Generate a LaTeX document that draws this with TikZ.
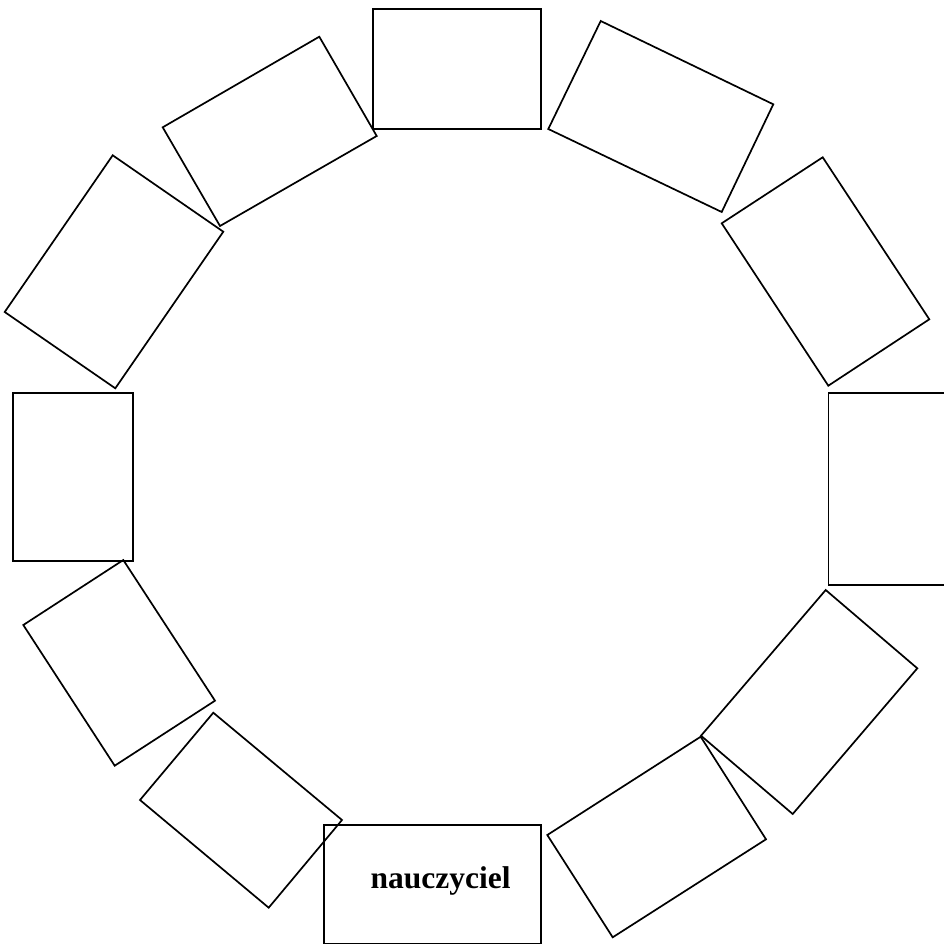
\documentclass[tikz,border=0pt]{standalone}
\usepackage{fontspec}
\setmainfont{Liberation Serif}
\begin{document}
\begin{tikzpicture}[x=1pt,y=-1pt,
  card/.style={draw=black,line width=1.7pt,line join=miter},
  label/.style={font=\bfseries\fontsize{31.5}{36}\selectfont,inner sep=0pt}]
\useasboundingbox (0,0) rectangle (944,945);
% top
\draw[card] (372.7,9) rectangle (541,128.7);
% top-left
\draw[card] (162.7,127.3) -- (319.3,36.7) -- (376.7,136) -- (220,226) -- cycle;
% left upper
\draw[card] (112.7,155.3) -- (223.3,231.7) -- (115.3,388.3) -- (4.7,312) -- cycle;
% left
\draw[card] (12.7,393) rectangle (133,561);
% left lower
\draw[card] (23.3,625) -- (123.3,560) -- (215,700.7) -- (114.7,765.7) -- cycle;
% bottom left
\draw[card] (213.3,712.7) -- (342,820) -- (268.7,907.7) -- (140,800) -- cycle;
% bottom (teacher)
\draw[card] (324.3,825.3) rectangle (541,943.5);
\node[label] (teacher) at (440.5,881) {nauczyciel};
% bottom right
\draw[card] (547.3,835) -- (700.7,736.7) -- (766,839.3) -- (612.7,937.3) -- cycle;
% right lower
\draw[card] (825.7,590) -- (917.3,668.3) -- (792.7,814) -- (701,735.7) -- cycle;
% right (cut at the edge)
\draw[card] (945,393.3) -- (828.5,393.3) -- (828.5,585) -- (945,585);
% right upper
\draw[card] (822.7,157.3) -- (929.3,319.3) -- (828.3,385.7) -- (721.7,223.3) -- cycle;
% top right
\draw[card] (600.7,21) -- (773.3,104.3) -- (721.7,212) -- (548.3,129) -- cycle;
\end{tikzpicture}
\end{document}
